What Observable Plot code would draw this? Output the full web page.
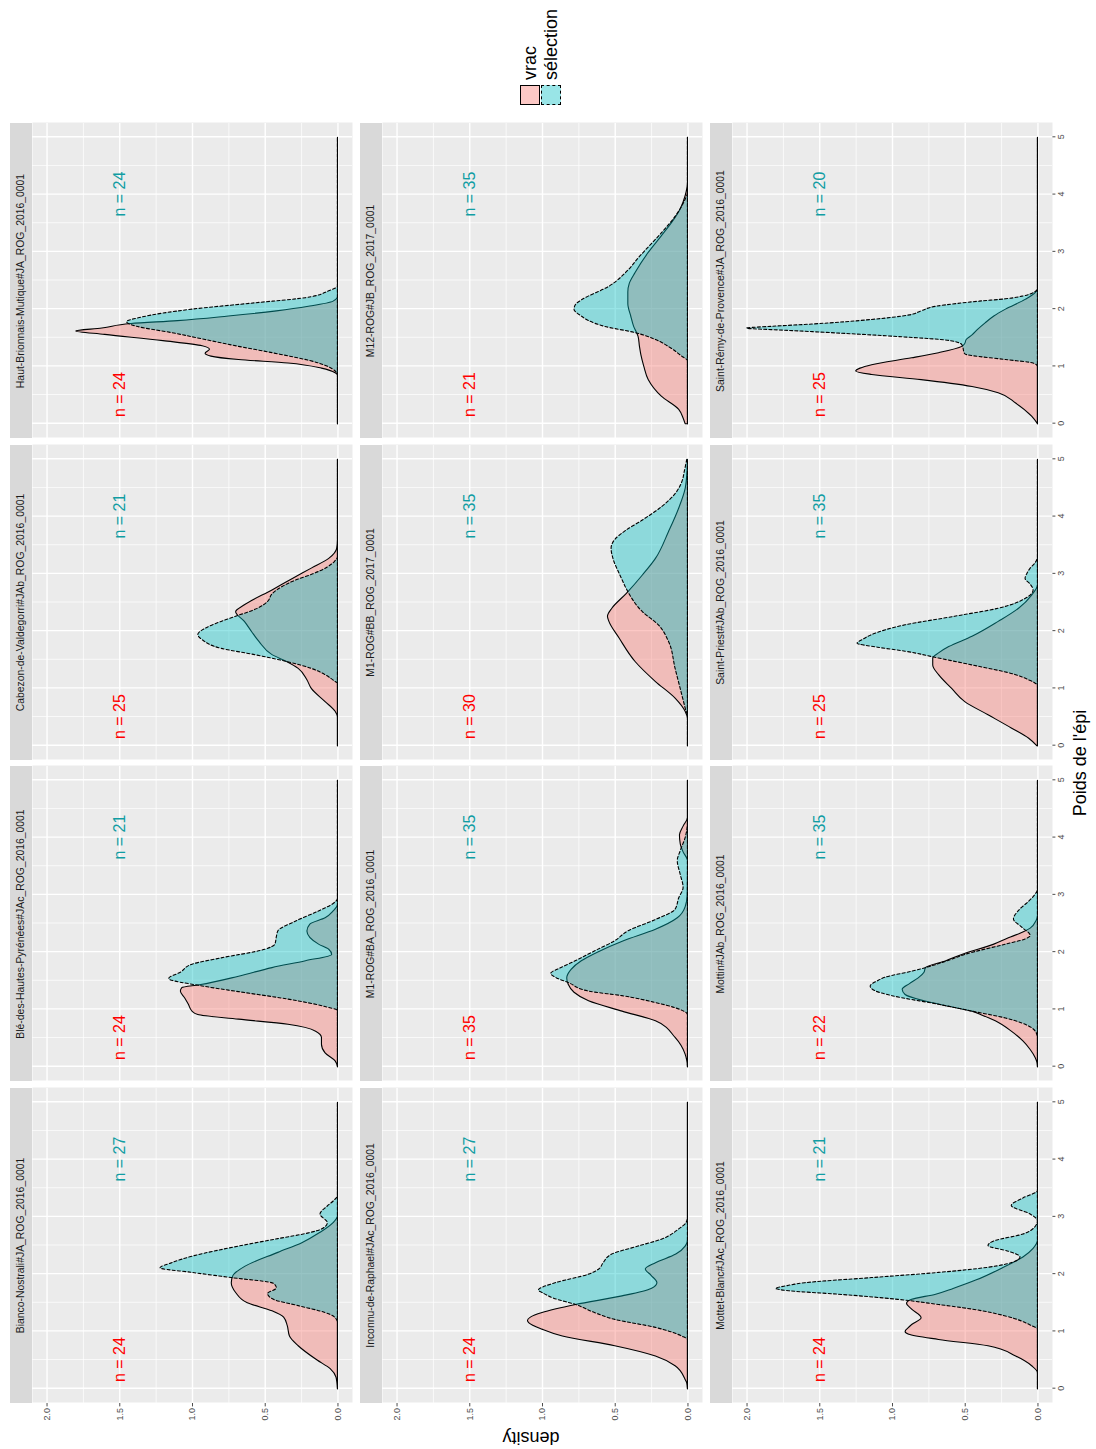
<!DOCTYPE html>
<html><head><meta charset="utf-8">
<script src="https://cdn.jsdelivr.net/npm/d3@7"></script>
<script src="https://cdn.jsdelivr.net/npm/@observablehq/plot@0.6"></script>
<style>
html,body{margin:0;padding:0;background:#fff;overflow:hidden;}
#root{position:absolute;left:0;top:0;width:1449px;height:1096px;transform-origin:0 0;transform:translate(0px,1449px) rotate(-90deg);background:#fff;font-family:"Liberation Sans",Arial,Helvetica,sans-serif;}
.strip{position:absolute;background:#D9D9D9;color:#1A1A1A;font-size:10.4px;text-align:center;white-space:nowrap;}
.abs{position:absolute;white-space:nowrap;}
</style></head>
<body><div id="root"></div>
<script>
// ---------- data ----------
const panelNames = [
  "Bianco-Nostrali#JA_ROG_2016_0001",
  "Blé-des-Hautes-Pyrénées#JAc_ROG_2016_0001",
  "Cabezon-de-Valdegorri#JAb_ROG_2016_0001",
  "Haut-Brionnais-Mutique#JA_ROG_2016_0001",
  "Inconnu-de-Raphael#JAc_ROG_2016_0001",
  "M1-ROG#BA_ROG_2016_0001",
  "M1-ROG#BB_ROG_2017_0001",
  "M12-ROG#JB_ROG_2017_0001",
  "Mottet-Blanc#JAc_ROG_2016_0001",
  "Mottin#JAb_ROG_2016_0001",
  "Saint-Priest#JAb_ROG_2016_0001",
  "Saint-Rémy-de-Provence#JA_ROG_2016_0001"
];
const groups = ["vrac", "sélection"];
const nVrac = [24, 24, 25, 24, 24, 35, 30, 21, 24, 22, 25, 25];
const nSel  = [27, 21, 21, 24, 27, 35, 35, 35, 21, 35, 35, 20];
const nLabelX = {vrac: 0.5, sel: 4};
const nLabelY = 1.5;
const xTicks = [0, 1, 2, 3, 4, 5];
const xMinor = [0.5, 1.5, 2.5, 3.5, 4.5];
const yTicks = [0, 0.5, 1, 1.5, 2];
const yMinor = [0.25, 0.75, 1.25, 1.75];
const xDomain = [-0.25, 5.25];
const yDomain = [-0.1, 2.1];

// density curves: [poids, density]
const biancoVrac = [[0,0],[0.2,0.01],[0.35,0.05],[0.5,0.14],[0.75,0.27],[0.92,0.33],[1.1,0.345],[1.25,0.37],[1.36,0.45],[1.5,0.62],[1.68,0.70],[1.85,0.73],[1.97,0.72],[2.14,0.635],[2.38,0.41],[2.55,0.245],[2.73,0.12],[2.9,0.03],[3.02,0],[5,0]];
const biancoSel  = [[0,0],[1.15,0],[1.25,0.02],[1.33,0.085],[1.45,0.27],[1.56,0.44],[1.66,0.48],[1.76,0.42],[1.84,0.44],[1.94,0.73],[2.03,1.0],[2.11,1.22],[2.2,1.14],[2.32,0.99],[2.49,0.68],[2.62,0.41],[2.72,0.2],[2.8,0.1],[2.9,0.07],[3.05,0.12],[3.19,0.07],[3.3,0.02],[3.37,0],[5,0]];
const bleVrac = [[0,0],[0.1,0.016],[0.24,0.085],[0.39,0.11],[0.51,0.11],[0.62,0.15],[0.74,0.34],[0.83,0.68],[0.91,0.96],[0.97,1.0],[1.09,1.025],[1.2,1.05],[1.32,1.08],[1.38,1.07],[1.43,0.95],[1.58,0.68],[1.73,0.45],[1.85,0.22],[1.96,0.04],[2.05,0.06],[2.14,0.13],[2.37,0.21],[2.49,0.19],[2.6,0.085],[2.72,0.03],[2.83,0],[5,0]];
const bleSel  = [[0,0],[0.98,0],[1.05,0.085],[1.18,0.34],[1.31,0.68],[1.41,0.93],[1.54,1.16],[1.65,1.08],[1.79,1.0],[1.9,0.8],[2.05,0.5],[2.14,0.43],[2.27,0.42],[2.37,0.41],[2.54,0.29],[2.72,0.13],[2.85,0.03],[2.94,0],[5,0]];
const cabezonVrac = [[0,0],[0.5,0],[0.6,0.016],[0.77,0.085],[1.0,0.18],[1.15,0.21],[1.35,0.27],[1.47,0.35],[1.59,0.45],[1.82,0.54],[1.99,0.59],[2.17,0.64],[2.34,0.70],[2.46,0.64],[2.72,0.45],[2.92,0.31],[3.1,0.18],[3.27,0.06],[3.45,0.005],[3.6,0],[5,0]];
const cabezonSel  = [[0,0],[1.09,0],[1.12,0.016],[1.24,0.085],[1.35,0.18],[1.47,0.35],[1.59,0.57],[1.70,0.80],[1.85,0.93],[1.94,0.96],[2.05,0.91],[2.17,0.80],[2.26,0.70],[2.4,0.55],[2.52,0.48],[2.65,0.45],[2.78,0.38],[2.9,0.28],[3.0,0.17],[3.12,0.07],[3.22,0.02],[3.3,0],[5,0]];
const hautVrac = [[0,0],[0.85,0],[0.89,0.016],[0.97,0.11],[1.06,0.34],[1.12,0.68],[1.18,0.87],[1.23,0.91],[1.3,0.88],[1.36,0.93],[1.45,1.2],[1.56,1.6],[1.62,1.8],[1.67,1.62],[1.75,1.42],[1.8,1.1],[1.88,0.75],[1.97,0.42],[2.05,0.2],[2.14,0.03],[2.22,0],[5,0]];
const hautSel  = [[0,0],[0.85,0],[0.92,0.016],[1.06,0.13],[1.24,0.45],[1.35,0.68],[1.47,0.91],[1.59,1.14],[1.7,1.38],[1.78,1.45],[1.86,1.35],[2.0,1.0],[2.11,0.57],[2.2,0.22],[2.32,0.06],[2.4,0],[5,0]];
const inconnuVrac = [[0,0],[0.1,0.005],[0.16,0.016],[0.4,0.085],[0.57,0.22],[0.75,0.5],[0.92,0.86],[1.04,1.0],[1.15,1.09],[1.19,1.1],[1.25,1.08],[1.33,1.0],[1.47,0.77],[1.62,0.45],[1.75,0.25],[1.85,0.21],[1.98,0.25],[2.09,0.29],[2.2,0.22],[2.35,0.08],[2.49,0.016],[2.6,0],[5,0]];
const inconnuSel  = [[0,0],[0.86,0],[0.92,0.04],[1.07,0.22],[1.21,0.5],[1.33,0.64],[1.47,0.77],[1.58,0.92],[1.68,1.0],[1.72,1.025],[1.85,0.91],[2.0,0.68],[2.09,0.61],[2.2,0.58],[2.35,0.52],[2.49,0.34],[2.61,0.18],[2.79,0.06],[2.9,0.01],[2.99,0],[5,0]];
const m1baVrac = [[0,0],[0.1,0.004],[0.22,0.016],[0.51,0.085],[0.8,0.22],[0.97,0.45],[1.15,0.68],[1.3,0.78],[1.44,0.82],[1.55,0.83],[1.7,0.8],[1.85,0.73],[2.0,0.62],[2.2,0.44],[2.4,0.22],[2.6,0.07],[2.8,0.015],[3.0,0.002],[3.6,0],[3.75,0.03],[3.9,0.05],[4.05,0.055],[4.2,0.03],[4.35,0],[5,0]];
const m1baSel  = [[0,0],[0.91,0],[1.03,0.085],[1.12,0.22],[1.24,0.45],[1.32,0.68],[1.47,0.82],[1.55,0.9],[1.63,0.94],[1.72,0.88],[1.79,0.82],[2.02,0.64],[2.2,0.5],[2.37,0.41],[2.57,0.22],[2.75,0.085],[2.95,0.06],[3.13,0.03],[3.36,0.05],[3.6,0.07],[3.77,0.05],[4.0,0.016],[4.29,0],[5,0]];
const m1bbVrac = [[0,0],[0.48,0],[0.6,0.016],[0.83,0.085],[1.12,0.22],[1.47,0.36],[1.88,0.47],[2.17,0.54],[2.26,0.55],[2.4,0.52],[2.66,0.42],[2.98,0.31],[3.27,0.22],[3.74,0.13],[4.15,0.06],[4.49,0.016],[4.8,0.003],[5,0]];
const m1bbSel  = [[0,0],[0.5,0],[0.66,0.016],[1.0,0.05],[1.35,0.085],[1.82,0.13],[2.11,0.2],[2.34,0.31],[2.69,0.41],[2.9,0.45],[3.01,0.47],[3.25,0.51],[3.45,0.525],[3.6,0.5],[3.75,0.43],[3.94,0.31],[4.17,0.18],[4.4,0.085],[4.6,0.04],[4.81,0.02],[5,0.005]];
const m12Vrac = [[0,0.016],[0.1,0.03],[0.25,0.06],[0.48,0.18],[0.77,0.27],[1.0,0.30],[1.2,0.32],[1.35,0.33],[1.53,0.34],[1.7,0.37],[1.88,0.39],[2.1,0.41],[2.3,0.41],[2.45,0.4],[2.64,0.36],[2.99,0.27],[3.28,0.18],[3.51,0.11],[3.75,0.05],[3.98,0.016],[4.21,0],[5,0]];
const m12Sel  = [[0,0],[1.1,0],[1.18,0.04],[1.33,0.12],[1.47,0.22],[1.59,0.36],[1.70,0.57],[1.8,0.68],[1.88,0.73],[2.0,0.78],[2.08,0.77],[2.16,0.73],[2.4,0.54],[2.68,0.41],[2.92,0.33],[3.03,0.29],[3.33,0.18],[3.62,0.085],[3.92,0.016],[4.04,0],[5,0]];
const mottetVrac = [[0,0],[0.28,0],[0.4,0.04],[0.57,0.15],[0.75,0.34],[0.86,0.68],[0.95,0.885],[1.0,0.91],[1.06,0.89],[1.12,0.865],[1.24,0.80],[1.39,0.865],[1.49,0.90],[1.56,0.865],[1.65,0.7],[1.75,0.58],[1.9,0.42],[2.1,0.25],[2.3,0.1],[2.45,0.03],[2.6,0],[5,0]];
const mottetSel  = [[0,0],[1.04,0],[1.1,0.04],[1.27,0.22],[1.39,0.45],[1.47,0.68],[1.56,0.96],[1.65,1.37],[1.71,1.71],[1.75,1.8],[1.8,1.72],[1.85,1.6],[1.94,1.14],[2.03,0.68],[2.12,0.34],[2.23,0.15],[2.3,0.12],[2.4,0.2],[2.5,0.34],[2.58,0.3],[2.7,0.1],[2.82,0.02],[2.93,0],[3.05,0.05],[3.2,0.18],[3.33,0.1],[3.46,0],[5,0]];
const mottinVrac = [[0,0],[0.08,0.004],[0.16,0.016],[0.3,0.05],[0.45,0.1],[0.62,0.18],[0.8,0.29],[0.9,0.38],[0.97,0.45],[1.05,0.6],[1.15,0.78],[1.26,0.91],[1.35,0.93],[1.45,0.88],[1.55,0.82],[1.65,0.78],[1.73,0.77],[1.85,0.63],[1.96,0.52],[2.14,0.3],[2.25,0.2],[2.33,0.12],[2.42,0.05],[2.55,0.01],[2.65,0],[5,0]];
const mottinSel  = [[0,0],[0.5,0],[0.6,0.01],[0.68,0.04],[0.85,0.22],[0.97,0.45],[1.09,0.68],[1.24,1.0],[1.33,1.12],[1.41,1.15],[1.5,1.1],[1.56,1.05],[1.67,0.86],[1.73,0.77],[1.85,0.62],[1.96,0.5],[2.14,0.22],[2.23,0.085],[2.29,0.05],[2.44,0.11],[2.58,0.165],[2.73,0.13],[2.89,0.06],[3.0,0.02],[3.1,0],[5,0]];
const priestVrac = [[0,0.005],[0.13,0.06],[0.31,0.18],[0.54,0.34],[0.77,0.5],[1.0,0.59],[1.24,0.68],[1.41,0.72],[1.53,0.72],[1.62,0.68],[1.73,0.61],[1.91,0.45],[2.17,0.27],[2.4,0.13],[2.63,0.04],[2.81,0],[5,0]];
const priestSel  = [[0,0],[1.05,0],[1.1,0.02],[1.15,0.06],[1.24,0.15],[1.41,0.45],[1.53,0.68],[1.65,0.91],[1.72,1.1],[1.79,1.24],[1.86,1.2],[1.94,1.14],[2.11,0.91],[2.26,0.57],[2.4,0.27],[2.57,0.085],[2.72,0.03],[2.82,0.05],[2.92,0.085],[3.02,0.07],[3.1,0.05],[3.2,0.015],[3.3,0],[5,0]];
const remyVrac = [[0,0],[0.13,0.04],[0.36,0.15],[0.54,0.27],[0.65,0.45],[0.77,0.8],[0.86,1.14],[0.92,1.25],[0.97,1.22],[1.03,1.14],[1.15,0.865],[1.24,0.68],[1.35,0.52],[1.4,0.5],[1.47,0.49],[1.55,0.45],[1.65,0.41],[1.76,0.36],[1.88,0.3],[2.0,0.22],[2.17,0.085],[2.29,0.016],[2.35,0],[5,0]];
const remySel  = [[0,0],[1.0,0],[1.06,0.03],[1.12,0.22],[1.22,0.5],[1.38,0.52],[1.45,0.6],[1.52,0.95],[1.58,1.35],[1.63,1.72],[1.67,2.0],[1.7,1.83],[1.74,1.55],[1.82,1.14],[1.9,0.88],[1.97,0.8],[2.05,0.7],[2.1,0.55],[2.14,0.4],[2.18,0.22],[2.23,0.1],[2.3,0.02],[2.35,0],[5,0]];

const vracCurves = [biancoVrac, bleVrac, cabezonVrac, hautVrac, inconnuVrac, m1baVrac, m1bbVrac, m12Vrac, mottetVrac, mottinVrac, priestVrac, remyVrac];
const selCurves  = [biancoSel, bleSel, cabezonSel, hautSel, inconnuSel, m1baSel, m1bbSel, m12Sel, mottetSel, mottinSel, priestSel, remySel];

// ---------- styling / layout ----------
const FONT = '"Liberation Sans", Arial, Helvetica, sans-serif';
const fillVrac = "#F8766D", fillSel = "#00BFC4", fillAlpha = 0.4;
const textVrac = "#FF0000", textSel = "#119DA3";
const PANEL_W = 315, PANEL_H = 320, STRIP_H = 21.7;
const X0 = 46, STEP_X = 321.5, Y0 = 31.7, STEP_Y = 350;
const root = document.getElementById("root");

panelNames.forEach((name, i) => {
  const r = Math.floor(i / 4), c = i % 4;
  const mL = c === 0 ? 46 : 0, mB = r === 2 ? 40 : 0;
  const px = X0 + c * STEP_X, py = Y0 + r * STEP_Y;

  const strip = document.createElement("div");
  strip.className = "strip";
  Object.assign(strip.style, {left: px + "px", top: (py - STRIP_H) + "px", width: PANEL_W + "px", height: STRIP_H + "px", lineHeight: STRIP_H + "px"});
  strip.textContent = name;
  root.appendChild(strip);

  const chart = Plot.plot({
    width: PANEL_W + mL, height: PANEL_H + mB,
    marginTop: 0, marginRight: 0, marginLeft: mL, marginBottom: mB,
    style: {background: "transparent", fontFamily: FONT, fontSize: "9px", color: "#4D4D4D", overflow: "visible"},
    x: {domain: xDomain, ticks: xTicks, axis: r === 2 ? "bottom" : null, tickSize: 3.4, tickPadding: 2.2, tickFormat: d3.format("d"), label: null},
    y: {domain: yDomain, ticks: yTicks, axis: c === 0 ? "left" : null, tickSize: 3.4, tickPadding: 2.2, tickFormat: d3.format(".1f"), label: null},
    marks: [
      Plot.frame({fill: "#EBEBEB", stroke: "none"}),
      Plot.gridX(xMinor, {stroke: "#FFFFFF", strokeOpacity: 1, strokeWidth: 0.7}),
      Plot.gridY(yMinor, {stroke: "#FFFFFF", strokeOpacity: 1, strokeWidth: 0.7}),
      Plot.gridX(xTicks, {stroke: "#FFFFFF", strokeOpacity: 1, strokeWidth: 1.4}),
      Plot.gridY(yTicks, {stroke: "#FFFFFF", strokeOpacity: 1, strokeWidth: 1.4}),
      Plot.areaY(vracCurves[i], {x: d => d[0], y: d => d[1], curve: "monotone-x", fill: fillVrac, fillOpacity: fillAlpha, stroke: "#000", strokeWidth: 1.1, strokeLinejoin: "round"}),
      Plot.areaY(selCurves[i], {x: d => d[0], y: d => d[1], curve: "monotone-x", fill: fillSel, fillOpacity: fillAlpha, stroke: "#000", strokeWidth: 1.1, strokeDasharray: "3,2.2"}),
      Plot.text([`n = ${nVrac[i]}`], {x: nLabelX.vrac, y: nLabelY, text: d => d, fill: textVrac, fontSize: 16, fontFamily: FONT}),
      Plot.text([`n = ${nSel[i]}`], {x: nLabelX.sel, y: nLabelY, text: d => d, fill: textSel, fontSize: 16, fontFamily: FONT})
    ]
  });
  chart.style.position = "absolute";
  chart.style.left = (px - mL) + "px";
  chart.style.top = py + "px";
  root.appendChild(chart);
});

// axis titles
function addText(txt, x, y, opts = {}) {
  const d = document.createElement("div");
  d.className = "abs";
  d.textContent = txt;
  Object.assign(d.style, {left: x + "px", top: y + "px", fontSize: (opts.size || 18) + "px", color: "#000",
    transform: opts.transform || "translate(-50%,-50%)", transformOrigin: "50% 50%"});
  root.appendChild(d);
  return d;
}
addText("Poids de l'épi", 686, 1080);
addText("density", 12, 531, {transform: "translate(-50%,-50%) rotate(-90deg)"});

// legend
const legendItems = [
  {label: groups[0], fill: fillVrac, dash: "solid", y: 520},
  {label: groups[1], fill: fillSel, dash: "dashed", y: 541}
];
legendItems.forEach(it => {
  const k = document.createElement("div");
  k.className = "abs";
  const rgb = d3.rgb(it.fill);
  Object.assign(k.style, {left: "1344px", top: it.y + "px", width: "20px", height: "20px", boxSizing: "border-box",
    background: `rgba(${rgb.r},${rgb.g},${rgb.b},${fillAlpha})`, border: `1px ${it.dash} #000`});
  root.appendChild(k);
  addText(it.label, 1369, it.y + 10, {size: 18, transform: "translate(0,-50%)"});
});
</script>
</body></html>
